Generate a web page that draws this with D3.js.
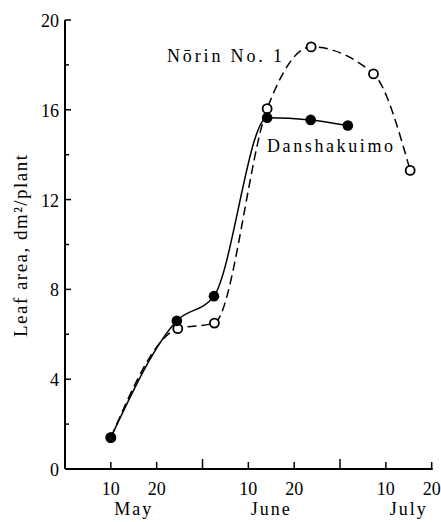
<!DOCTYPE html>
<html><head><meta charset="utf-8">
<script src="https://cdn.jsdelivr.net/npm/d3@7/dist/d3.min.js"></script>
<style>body{margin:0;background:#fff}text{font-family:"Liberation Serif","Times New Roman",serif;fill:#000}</style>
</head><body><svg id="c" width="441" height="522"></svg>
<script>
// x = day counted from May 1 (30-day months as drawn): May 10 = 10, June 10 = 40, July 10 = 70
const danshakuimoX = [10, 24.4, 32.5, 44.1, 53.6, 61.7];
const danshakuimoY = [1.4, 6.6, 7.7, 15.65, 15.55, 15.3];
const norinX = [10, 24.6, 32.6, 44.1, 53.7, 67.3, 75.3];
const norinY = [1.4, 6.25, 6.5, 16.05, 18.8, 17.6, 13.3];
const xTickValues = [10, 20, 30, 40, 50, 60, 70, 80];
const xTickLabels = ["10", "20", "", "10", "20", "", "10", "20"];
const monthNames = ["May", "June", "July"];
const monthCenters = [15, 45, 75];
const yMajorTicks = [0, 4, 8, 12, 16, 20];
const yMinorTicks = [2, 6, 10, 14, 18];
const yLabel = "Leaf area,  dm²/plant";

const svg = d3.select("#c");
const x = d3.scaleLinear().domain([0, 80]).range([65, 431.7]);
const y = d3.scaleLinear().domain([0, 20]).range([469, 20]);

svg.append("line").attr("x1", x(0)).attr("x2", x(0)).attr("y1", y(20)).attr("y2", y(0)).attr("stroke", "#000").attr("stroke-width", 2);
svg.append("line").attr("x1", x(0)).attr("x2", x(80)+1).attr("y1", y(0)).attr("y2", y(0)).attr("stroke", "#000").attr("stroke-width", 2);

svg.selectAll(".ymaj").data(yMajorTicks).enter().append("line")
  .attr("x1", x(0)).attr("x2", x(0)+6).attr("y1", d=>y(d)).attr("y2", d=>y(d)).attr("stroke","#000").attr("stroke-width",1.5);
svg.selectAll(".ymin").data(yMinorTicks).enter().append("line")
  .attr("x1", x(0)).attr("x2", x(0)+4).attr("y1", d=>y(d)).attr("y2", d=>y(d)).attr("stroke","#000").attr("stroke-width",1.5);
svg.selectAll(".ylab").data(yMajorTicks).enter().append("text")
  .attr("x", 59).attr("y", d=>y(d)+7).attr("text-anchor","end").attr("font-size",18).text(d=>d);

svg.selectAll(".xt").data(xTickValues).enter().append("line")
  .attr("x1", d=>x(d)).attr("x2", d=>x(d)).attr("y1", y(0)).attr("y2", (d,i)=> y(0) - (xTickLabels[i]==="" ? 10 : 7))
  .attr("stroke","#000").attr("stroke-width",1.5);
svg.selectAll(".xl").data(xTickValues).enter().append("text")
  .attr("x", d=>x(d)).attr("y", 495).attr("text-anchor","middle").attr("font-size",18)
  .text((d,i)=>xTickLabels[i]);
svg.selectAll(".ml").data(monthNames).enter().append("text")
  .attr("x", (d,i)=>x(monthCenters[i])).attr("y", 515).attr("text-anchor","middle").attr("font-size",18)
  .attr("letter-spacing", 2).text(d=>d);

svg.append("text").attr("transform","translate(27,246) rotate(-90)").attr("text-anchor","middle")
  .attr("font-size",19).attr("textLength",182).attr("lengthAdjust","spacing").text(yLabel);

const line = d3.line().x(d=>x(d[0])).y(d=>y(d[1])).curve(d3.curveMonotoneX);
const dData = danshakuimoX.map((v,i)=>[v, danshakuimoY[i]]);
const nData = norinX.map((v,i)=>[v, norinY[i]]);
svg.append("path").datum(nData).attr("d", line).attr("fill","none").attr("stroke","#000").attr("stroke-width",1.5).attr("stroke-dasharray","9,5");
svg.append("path").datum(dData).attr("d", line).attr("fill","none").attr("stroke","#000").attr("stroke-width",1.5);

svg.selectAll(".nm").data(nData).enter().append("circle")
  .attr("cx", d=>x(d[0])).attr("cy", d=>y(d[1])).attr("r", 4.5).attr("fill","#fff").attr("stroke","#000").attr("stroke-width",1.8);
svg.selectAll(".dm").data(dData).enter().append("circle")
  .attr("cx", d=>x(d[0])).attr("cy", d=>y(d[1])).attr("r", 5.3).attr("fill","#000");

svg.append("text").attr("x", 167).attr("y", 62).attr("font-size",18).attr("textLength",115).text("Nōrin No. 1");
svg.append("text").attr("x", 267).attr("y", 152).attr("font-size",18).attr("textLength",126).text("Danshakuimo");
</script></body></html>
